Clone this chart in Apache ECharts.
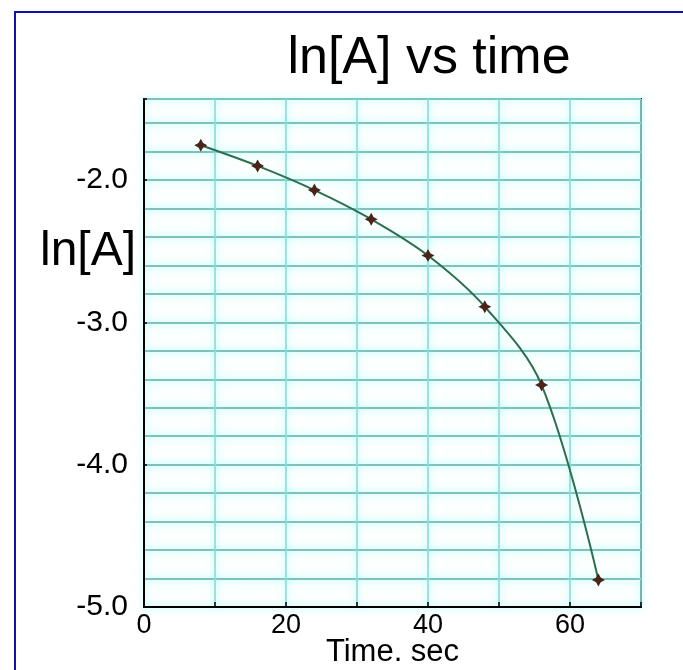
<!DOCTYPE html>
<html>
<head>
<meta charset="utf-8">
<script src="https://cdn.jsdelivr.net/npm/echarts@6/dist/echarts.min.js"></script>
<style>
html,body{margin:0;padding:0;background:#fff;}
#chart{width:683px;height:670px;}
</style>
</head>
<body>
<div id="chart"></div>
<script>
// Data
const timeSec = [8, 16, 24, 32, 40, 48, 56, 64];
const lnA = [-1.755, -1.90, -2.07, -2.275, -2.53, -2.89, -3.44, -4.81];
const xTickLabels = ['0', '20', '40', '60'];
const yTickLabels = ['-5.0', '-4.0', '-3.0', '-2.0'];
const titleText = 'ln[A] vs time';
const xName = 'Time. sec';
const yName = 'ln[A]';

const FONT = 'Liberation Sans, Arial, sans-serif';
const chart = echarts.init(document.getElementById('chart'), null, {renderer: 'canvas'});

const seriesData = timeSec.map((t, i) => [t, lnA[i]]);
const yMin = -5, yMax = -1.43;

const hLine = {
  color: '#82c0ba', width: 2,
  shadowColor: 'rgba(120,255,250,0.8)', shadowBlur: 7
};
const vLine = {
  color: '#8fd8d5', width: 1.6,
  shadowColor: 'rgba(120,255,250,0.8)', shadowBlur: 7
};

chart.setOption({
  animation: false,
  backgroundColor: '#ffffff',
  title: {
    text: titleText,
    left: 424, top: 28, textAlign: 'center',
    textStyle: {fontFamily: FONT, fontSize: 52, fontWeight: 'normal', color: '#000'}
  },
  graphic: [
    {type: 'rect', shape: {x: 15, y: 12, width: 700, height: 700},
     style: {fill: 'none', stroke: '#1212a8', lineWidth: 2}, z: 100},
    {type: 'text', x: 40, y: 252,
     style: {text: yName, font: '48px ' + FONT, fill: '#000', textVerticalAlign: 'middle', textAlign: 'left'}}
  ],
  grid: {
    left: 144, top: 99, width: 497, height: 508,
    outerBoundsMode: 'none', containLabel: false,
    show: true, borderColor: '#000', borderWidth: 2, backgroundColor: '#fbfffe'
  },
  xAxis: {
    type: 'value', min: 0, max: 70, interval: 10,
    name: xName, nameLocation: 'middle', nameGap: 30, nameMoveOverlap: false,
    nameTextStyle: {fontFamily: FONT, fontSize: 31, color: '#000'},
    axisLine: {show: true, lineStyle: {color: '#000', width: 2}},
    axisTick: {show: true, inside: true, length: 5, lineStyle: {color: '#000', width: 1.5}},
    axisLabel: {
      fontFamily: FONT, fontSize: 27, color: '#000', margin: 5,
      formatter: v => xTickLabels.indexOf(String(v)) >= 0 ? String(v) : ''
    },
    splitLine: {show: true, lineStyle: vLine}
  },
  yAxis: [
    {
      type: 'value', min: yMin, max: yMax, interval: 0.2,
      axisLine: {show: true, lineStyle: {color: '#000', width: 2}},
      axisTick: {show: false}, axisLabel: {show: false},
      splitLine: {show: true, lineStyle: hLine}
    },
    {
      type: 'value', min: yMin, max: yMax, interval: 1, position: 'left',
      axisLine: {show: false},
      axisTick: {show: true, inside: true, length: 3, lineStyle: {color: '#000', width: 1.5}},
      axisLabel: {
        fontFamily: FONT, fontSize: 30, color: '#000', margin: 16,
        formatter: v => { const s = v.toFixed(1); return yTickLabels.indexOf(s) >= 0 ? s : ''; }
      },
      splitLine: {show: false}
    }
  ],
  series: [{
    type: 'line', data: seriesData, smooth: 0.35,
    lineStyle: {color: '#2c6e4e', width: 2},
    symbol: 'path://M0,-5 L1.8,-1.8 L5,0 L1.8,1.8 L0,5 L-1.8,1.8 L-5,0 L-1.8,-1.8 Z',
    symbolSize: 13,
    itemStyle: {color: '#4a2418'},
    z: 5
  }]
});
</script>
</body>
</html>
